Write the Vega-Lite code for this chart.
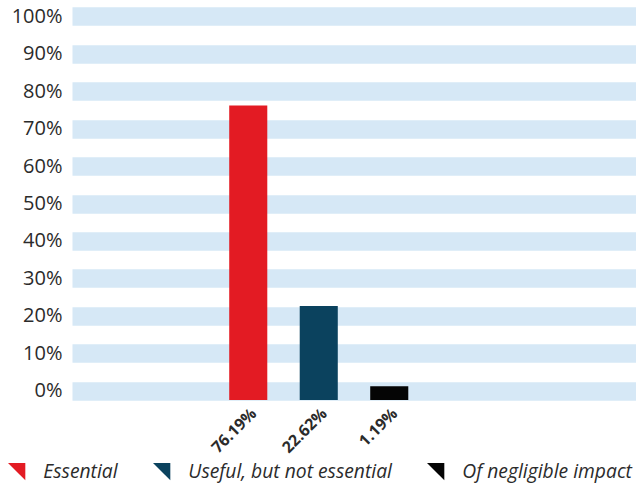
{
  "$schema": "https://vega.github.io/schema/vega-lite/v6.json",
  "width": 564,
  "height": 393,
  "autosize": {"type": "none"},
  "padding": {"left": 72, "top": 7, "right": 0, "bottom": 88},
  "background": "white",
  "config": {
    "view": {"stroke": null},
    "font": "Open Sans"
  },
  "data": {
    "values": [
      {"category": "Essential", "label": "76.19%", "value": 76.19},
      {"category": "Useful, but not essential", "label": "22.62%", "value": 22.62},
      {"category": "Of negligible impact", "label": "1.19%", "value": 1.19}
    ]
  },
  "mark": {"type": "bar"},
  "encoding": {
    "x": {
      "field": "label",
      "type": "nominal",
      "sort": null,
      "scale": {
        "domain": ["a", "b", "76.19%", "22.62%", "1.19%", "f", "g", "h"],
        "paddingInner": 0.46,
        "paddingOuter": 0.23
      },
      "axis": {
        "title": null,
        "domain": false,
        "ticks": false,
        "labelAngle": -45,
        "labelExpr": "indexof(datum.label, '%') >= 0 ? datum.label : ''",
        "labelFontSize": 16,
        "labelFontWeight": "bold",
        "labelColor": "#2b2b2b",
        "labelPadding": 5
      }
    },
    "y": {
      "field": "value",
      "type": "quantitative",
      "scale": {"domain": [-2.5, 102.5], "nice": false, "zero": false},
      "axis": {
        "title": null,
        "domain": false,
        "ticks": false,
        "values": [0, 10, 20, 30, 40, 50, 60, 70, 80, 90, 100],
        "labelExpr": "datum.value + '%'",
        "labelFontSize": 20,
        "labelFontWeight": 500,
        "labelColor": "#2b2b2b",
        "labelPadding": 10,
        "grid": true,
        "gridColor": "#d6e8f6",
        "gridWidth": 18.7,
        "gridOpacity": 1
      }
    },
    "y2": {"datum": -2.5},
    "color": {
      "field": "category",
      "type": "nominal",
      "sort": null,
      "scale": {
        "domain": ["Essential", "Useful, but not essential", "Of negligible impact"],
        "range": ["#e31b23", "#0b425e", "#050505"]
      },
      "legend": {
        "title": null,
        "orient": "none",
        "direction": "horizontal",
        "legendX": -65,
        "legendY": 455,
        "symbolType": "M-1,-1L1,-1L1,1Z",
        "symbolSize": 300,
        "symbolStrokeWidth": 0,
        "labelFontSize": 19.3,
        "labelFontStyle": "italic",
        "labelColor": "#2b2b2b",
        "labelOffset": 17,
        "columnPadding": 34,
        "labelLimit": 400
      }
    }
  }
}
